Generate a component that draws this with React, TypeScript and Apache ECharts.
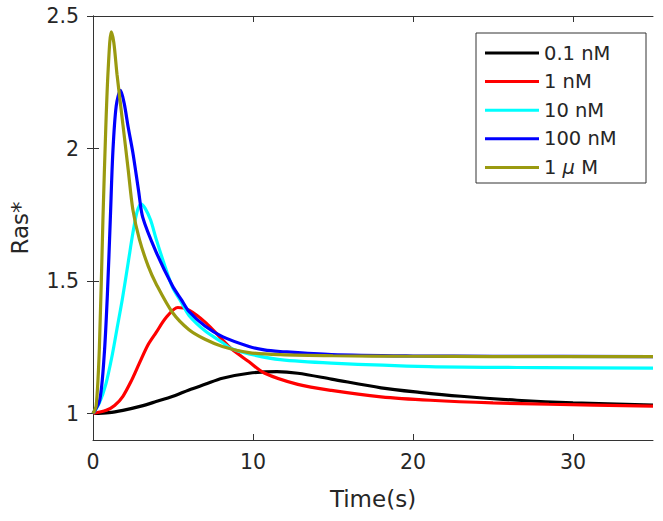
import React, { useEffect, useRef } from "react";
import * as echarts from "echarts";

const seriesNames = ["0.1 nM", "1 nM", "10 nM", "100 nM", "1 μ M"];
const seriesColors = ["#000000", "#ff0000", "#00ffff", "#0000ff", "#9a9a10"];

const black01nM: [number, number][] = [
  [0, 1], [1, 1.003], [1.87, 1.012], [3, 1.028], [3.94, 1.045], [5, 1.065], [6, 1.089], [7, 1.11],
  [8.09, 1.133], [9.75, 1.152], [11.5, 1.158], [12.8, 1.152], [14.9, 1.13], [18, 1.097], [20.4, 1.08],
  [23, 1.065], [26.5, 1.05], [30, 1.04], [35, 1.032],
];
const red1nM: [number, number][] = [
  [0, 1], [0.83, 1.012], [1.35, 1.03], [1.87, 1.065], [2.41, 1.125], [2.9, 1.19], [3.45, 1.26],
  [3.94, 1.305], [4.57, 1.362], [5.3, 1.4], [6, 1.39], [7.06, 1.342], [8.09, 1.278], [8.63, 1.245],
  [9.75, 1.195], [10.7, 1.153], [12.8, 1.11], [14.9, 1.087], [18, 1.063], [21.1, 1.05], [25, 1.04],
  [28.5, 1.035], [35, 1.028],
];
const cyan10nM: [number, number][] = [
  [0, 1], [0.4, 1.04], [0.8, 1.11], [1.2, 1.22], [1.5, 1.32], [1.83, 1.43], [2.2, 1.57], [2.49, 1.68],
  [2.75, 1.76], [3, 1.79], [3.25, 1.775], [3.6, 1.73], [3.94, 1.66], [4.5, 1.555], [4.98, 1.475],
  [5.52, 1.42], [6, 1.37], [7, 1.312], [8.09, 1.268], [8.63, 1.245], [9.75, 1.225], [11.7, 1.203],
  [14.9, 1.19], [21, 1.177], [28, 1.173], [35, 1.171],
];
const blue100nM: [number, number][] = [
  [0, 1], [0.42, 1.05], [0.7, 1.22], [0.9, 1.45], [1.08, 1.73], [1.24, 1.985], [1.45, 2.16],
  [1.72, 2.219], [1.95, 2.17], [2.2, 2.08], [2.49, 1.985], [2.85, 1.84], [3.11, 1.74], [3.94, 1.61],
  [4.98, 1.48], [5.52, 1.43], [6, 1.385], [7, 1.33], [8.09, 1.29], [9.75, 1.253], [10.7, 1.24],
  [11.7, 1.234], [14.9, 1.222], [20, 1.217], [25, 1.216], [35, 1.215],
];
const olive1uM: [number, number][] = [
  [0, 1], [0.2, 1.03], [0.4, 1.25], [0.62, 1.73], [0.8, 2.08], [0.95, 2.3], [1.14, 2.44], [1.3, 2.4],
  [1.5, 2.28], [1.87, 2.09], [2.2, 1.92], [2.49, 1.77], [2.9, 1.657], [3.45, 1.556], [3.94, 1.49],
  [4.98, 1.38], [6, 1.316], [7, 1.28], [8.09, 1.253], [9.75, 1.23], [11.7, 1.222], [15, 1.218],
  [20, 1.216], [25, 1.215], [30, 1.215], [35, 1.215],
];
const seriesData = [black01nM, red1nM, cyan10nM, blue100nM, olive1uM];

const xTicks = [0, 10, 20, 30];
const yTicks = [1, 1.5, 2, 2.5];

const FONT = "DejaVu Sans";
const AXIS_COLOR = "#333333";
const TEXT_COLOR = "#262626";

export default function App() {
  const ref = useRef<HTMLDivElement>(null);
  useEffect(() => {
    document.body.style.margin = "0";
    const chart = echarts.init(ref.current!, null, { renderer: "svg" });
    const axisCommon = {
      axisLine: { show: true, lineStyle: { color: AXIS_COLOR, width: 1 } },
      axisTick: { show: true, inside: true, length: 6, lineStyle: { color: AXIS_COLOR } },
      splitLine: { show: false },
    };
    chart.setOption({
      animation: false,
      backgroundColor: "#ffffff",
      grid: { left: 92, top: 16, right: 10, bottom: 81, containLabel: false },
      legend: {
        data: seriesNames,
        orient: "vertical",
        left: 485,
        top: 43,
        padding: 0,
        icon: "rect",
        itemWidth: 54,
        itemHeight: 3,
        itemGap: 8.6,
        z: 10,
        textStyle: {
          fontFamily: FONT,
          fontSize: 19.5,
          lineHeight: 20,
          color: TEXT_COLOR,
          rich: { mu: { fontFamily: FONT, fontSize: 19.5, fontStyle: "italic", color: TEXT_COLOR } },
        },
        formatter: (name: string) => (name === "1 μ M" ? "1 {mu|μ} M" : name),
      },
      graphic: [
        {
          type: "rect",
          z: 5,
          shape: { x: 476, y: 33, width: 170, height: 150 },
          style: { fill: "#ffffff", stroke: AXIS_COLOR, lineWidth: 1 },
        },
      ],
      xAxis: [
        {
          type: "value",
          min: 0,
          max: 35,
          position: "bottom",
          ...axisCommon,
          axisTick: { ...axisCommon.axisTick, customValues: xTicks },
          axisLabel: {
            customValues: xTicks,
            margin: 11,
            fontFamily: FONT,
            fontSize: 20.5,
            color: TEXT_COLOR,
          },
          name: "Time(s)",
          nameLocation: "middle",
          nameGap: 47,
          nameTextStyle: { fontFamily: FONT, fontSize: 23, color: TEXT_COLOR },
        },
        {
          type: "value",
          min: 0,
          max: 35,
          position: "top",
          ...axisCommon,
          axisTick: { ...axisCommon.axisTick, customValues: xTicks },
          axisLabel: { show: false },
        },
      ],
      yAxis: [
        {
          type: "value",
          min: 0.9,
          max: 2.5,
          position: "left",
          ...axisCommon,
          axisTick: { ...axisCommon.axisTick, customValues: yTicks },
          axisLabel: {
            customValues: yTicks,
            margin: 14,
            fontFamily: FONT,
            fontSize: 20.5,
            color: TEXT_COLOR,
            formatter: (v: number) => String(v),
          },
          name: "Ras*",
          nameLocation: "middle",
          nameGap: 62,
          nameTextStyle: { fontFamily: FONT, fontSize: 23, color: TEXT_COLOR },
        },
        {
          type: "value",
          min: 0.9,
          max: 2.5,
          position: "right",
          ...axisCommon,
          axisTick: { ...axisCommon.axisTick, customValues: yTicks },
          axisLabel: { show: false },
        },
      ],
      series: seriesNames.map((name, i) => ({
        name,
        type: "line",
        data: seriesData[i],
        xAxisIndex: 0,
        yAxisIndex: 0,
        showSymbol: false,
        symbol: "none",
        smooth: 0.3,
        color: seriesColors[i],
        lineStyle: { color: seriesColors[i], width: 3.2 },
        itemStyle: { color: seriesColors[i] },
        clip: true,
      })),
    });
    return () => chart.dispose();
  }, []);
  return <div ref={ref} style={{ width: 663, height: 521 }} />;
}
